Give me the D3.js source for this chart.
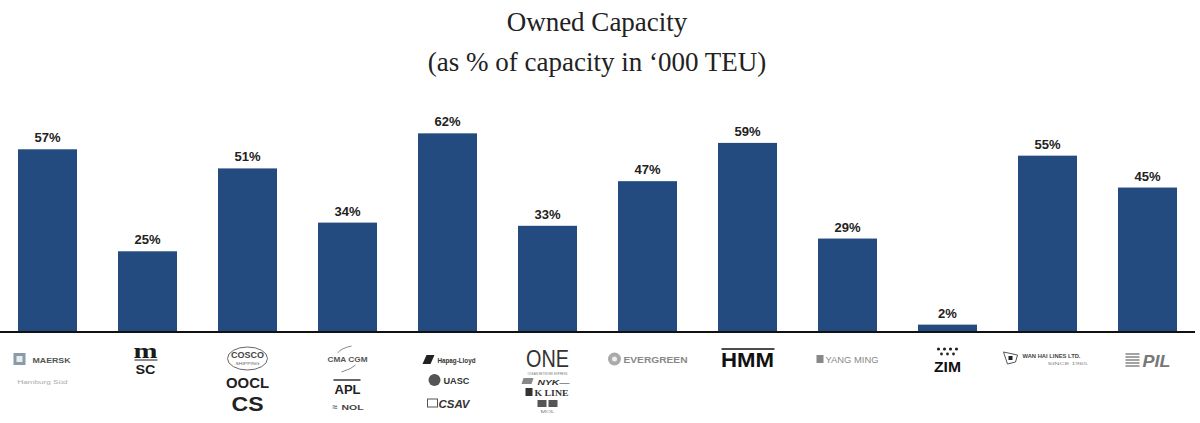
<!DOCTYPE html>
<html>
<head>
<meta charset="utf-8">
<script src="https://cdn.jsdelivr.net/npm/d3@7"></script>
<style>
  html, body { margin: 0; padding: 0; background: #fff; }
  #chart { width: 1200px; height: 423px; }
</style>
</head>
<body>
<div id="chart"></div>
<script>
// Owned capacity by carrier (% of fleet capacity in '000 TEU)
const carriers = ["Maersk", "MSC", "COSCO", "CMA CGM", "Hapag-Lloyd", "ONE",
  "Evergreen", "HMM", "Yang Ming", "ZIM", "Wan Hai", "PIL"];
const ownedShare = [57, 25, 51, 34, 62, 33, 47, 59, 29, 2, 55, 45];
const titleLines = ["Owned Capacity", "(as % of capacity in \u2018000 TEU)"];

const width = 1200;
const height = 423;
const baseY = 331;
const sans = "'Liberation Sans', Arial, sans-serif";
const serif = "'Liberation Serif', 'Times New Roman', serif";

const svg = d3.select("#chart")
  .append("svg")
  .attr("width", width)
  .attr("height", height);

// Title
svg.selectAll(".title")
  .data(titleLines)
  .enter().append("text")
  .attr("class", "title")
  .attr("x", 597)
  .attr("y", (d, i) => i === 0 ? 31 : 71)
  .attr("text-anchor", "middle")
  .style("font-family", serif)
  .style("font-size", "27px")
  .style("fill", "#222")
  .text(d => d);

// Scales
const x = d3.scaleBand()
  .domain(carriers)
  .range([-2.5, 1197.5])
  .paddingInner(0.41)
  .paddingOuter(0.205);

const y = d3.scaleLinear()
  .domain([0, 100])
  .range([baseY, baseY - 318.8]);

const rows = carriers.map((c, i) => ({ name: c, value: ownedShare[i] }));

// Bars
svg.selectAll(".bar")
  .data(rows)
  .enter().append("rect")
  .attr("class", "bar")
  .attr("x", d => x(d.name))
  .attr("y", d => y(d.value))
  .attr("width", x.bandwidth())
  .attr("height", d => y(0) - y(d.value))
  .attr("fill", "#244b7f");

// Value labels
svg.selectAll(".value")
  .data(rows)
  .enter().append("text")
  .attr("class", "value")
  .attr("x", d => x(d.name) + x.bandwidth() / 2)
  .attr("y", d => y(d.value) - 7)
  .attr("text-anchor", "middle")
  .style("font-family", sans)
  .style("font-weight", "bold")
  .style("font-size", "13px")
  .style("fill", "#222")
  .text(d => d.value + "%");

// Baseline
const axis = svg.append("g")
  .attr("transform", `translate(0,${baseY})`)
  .call(d3.axisBottom(x).tickSize(0).tickFormat(""));
axis.select(".domain")
  .attr("d", "M0,1V1H1195")
  .attr("stroke", "#111")
  .attr("stroke-width", 2.2);

// Carrier logos, drawn as text marks under each bar
function txt(g, s, xx, yy, opts) {
  const t = g.append("text")
    .attr("x", xx)
    .attr("y", yy)
    .attr("text-anchor", opts.anchor || "start")
    .style("font-family", opts.family || sans)
    .style("font-size", opts.size + "px")
    .style("font-weight", opts.weight || "bold")
    .style("font-style", opts.italic ? "italic" : "normal")
    .style("fill", opts.fill || "#333")
    .text(s);
  if (opts.len) t.attr("textLength", opts.len).attr("lengthAdjust", "spacingAndGlyphs");
  return t;
}

function drawLogo(name, cx) {
  const g = svg.append("g").attr("class", "logo");
  switch (name) {
    case "Maersk":
      g.append("rect").attr("x", cx - 34).attr("y", 353).attr("width", 12).attr("height", 12).attr("fill", "#8a9aa6");
      g.append("rect").attr("x", cx - 31).attr("y", 356).attr("width", 6).attr("height", 6).attr("fill", "#e6ecf0");
      txt(g, "MAERSK", cx - 15, 362.5, { size: 8, fill: "#555", len: 38 });
      txt(g, "Hamburg S\u00fcd", cx - 30, 384, { size: 5, weight: "normal", fill: "#aaa", len: 50 });
      break;
    case "MSC":
      txt(g, "m", cx - 2, 358, { size: 20, family: serif, fill: "#1a1a1a", anchor: "middle", len: 24 });
      g.append("line").attr("x1", cx - 13).attr("x2", cx + 10).attr("y1", 360).attr("y2", 360).attr("stroke", "#1a1a1a");
      txt(g, "SC", cx - 2, 374, { size: 12, fill: "#1a1a1a", anchor: "middle", len: 20 });
      break;
    case "COSCO":
      g.append("ellipse").attr("cx", cx).attr("cy", 358.5).attr("rx", 20).attr("ry", 11.5).attr("fill", "none").attr("stroke", "#666").attr("stroke-width", 1);
      txt(g, "COSCO", cx, 358, { size: 9, fill: "#444", anchor: "middle", len: 33 });
      txt(g, "SHIPPING", cx, 364.5, { size: 4, weight: "normal", fill: "#666", anchor: "middle", len: 24 });
      txt(g, "OOCL", cx, 388, { size: 14, fill: "#222", anchor: "middle", len: 43 });
      txt(g, "CS", cx, 411, { size: 20, weight: 900, fill: "#222", anchor: "middle", len: 32 });
      break;
    case "CMA CGM":
      g.append("path").attr("d", `M${cx + 4},346 Q${cx - 6},348 ${cx - 10},353`).attr("fill", "none").attr("stroke", "#888");
      txt(g, "CMA CGM", cx, 362, { size: 8, fill: "#555", anchor: "middle", len: 40 });
      g.append("path").attr("d", `M${cx - 6},372 Q${cx + 4},369 ${cx + 8},365`).attr("fill", "none").attr("stroke", "#888");
      g.append("line").attr("x1", cx - 14).attr("x2", cx + 13).attr("y1", 380).attr("y2", 380).attr("stroke", "#333").attr("stroke-width", 1.5);
      txt(g, "APL", cx, 394, { size: 12, fill: "#222", anchor: "middle", len: 26 });
      txt(g, "\u2248", cx - 15, 410, { size: 9, fill: "#666" });
      txt(g, "NOL", cx - 6, 410, { size: 7, fill: "#444", len: 22 });
      break;
    case "Hapag-Lloyd":
      g.append("path").attr("d", `M${cx - 25},364 L${cx - 21},355 L${cx - 13},355 L${cx - 17},364 Z`).attr("fill", "#222");
      txt(g, "Hapag-Lloyd", cx - 10, 363, { size: 7, fill: "#333", len: 38 });
      g.append("circle").attr("cx", cx - 13).attr("cy", 380).attr("r", 6).attr("fill", "#555");
      txt(g, "UASC", cx - 4, 384, { size: 9, fill: "#333", len: 26 });
      g.append("rect").attr("x", cx - 20).attr("y", 399).attr("width", 10).attr("height", 8).attr("fill", "none").attr("stroke", "#555");
      txt(g, "CSAV", cx - 9, 407.5, { size: 11, italic: true, fill: "#333", len: 31 });
      break;
    case "ONE":
      txt(g, "ONE", cx, 366.5, { size: 23, weight: "normal", fill: "#333", anchor: "middle", len: 43 });
      txt(g, "OCEAN NETWORK EXPRESS", cx, 374.5, { size: 3, weight: "normal", fill: "#777", anchor: "middle", len: 40 });
      g.append("path").attr("d", `M${cx - 24},378 L${cx - 14},378 L${cx - 16},384 L${cx - 26},384 Z`).attr("fill", "#888");
      txt(g, "NYK\u2014", cx - 10, 385, { size: 8, italic: true, fill: "#333", len: 32 });
      g.append("rect").attr("x", cx - 22).attr("y", 388).attr("width", 7).attr("height", 8).attr("fill", "#333");
      txt(g, "K LINE", cx - 13, 396, { size: 9, family: serif, fill: "#333", len: 34 });
      g.append("rect").attr("x", cx - 10).attr("y", 400).attr("width", 9).attr("height", 7).attr("fill", "#555");
      g.append("rect").attr("x", cx + 1).attr("y", 400).attr("width", 9).attr("height", 7).attr("fill", "#555");
      txt(g, "MOL", cx, 413, { size: 4, weight: "normal", fill: "#777", anchor: "middle", len: 14 });
      break;
    case "Evergreen":
      g.append("circle").attr("cx", cx - 33).attr("cy", 359).attr("r", 6.5).attr("fill", "#aaa");
      g.append("circle").attr("cx", cx - 33).attr("cy", 359).attr("r", 2.5).attr("fill", "#eee");
      txt(g, "EVERGREEN", cx - 24, 363, { size: 9, fill: "#888", len: 64 });
      break;
    case "HMM":
      g.append("line").attr("x1", cx - 26).attr("x2", cx + 27).attr("y1", 349).attr("y2", 349).attr("stroke", "#111").attr("stroke-width", 1.5);
      txt(g, "HMM", cx, 367, { size: 20, weight: 900, fill: "#111", anchor: "middle", len: 53 });
      break;
    case "Yang Ming":
      g.append("rect").attr("x", cx - 31).attr("y", 355).attr("width", 7).attr("height", 8).attr("fill", "#888");
      txt(g, "YANG MING", cx - 22, 363, { size: 9, weight: "normal", fill: "#888", len: 53 });
      break;
    case "ZIM":
      [-9, -3, 3, 9].forEach(d => g.append("circle").attr("cx", cx + d).attr("cy", 349).attr("r", 1.6).attr("fill", "#222"));
      [-6, 0, 6].forEach(d => g.append("circle").attr("cx", cx + d).attr("cy", 354).attr("r", 1.4).attr("fill", "#222"));
      txt(g, "ZIM", cx, 372, { size: 15, fill: "#111", anchor: "middle", len: 27 });
      break;
    case "Wan Hai":
      g.append("path").attr("d", `M${cx - 44},352 L${cx - 30},355 L${cx - 32},362 L${cx - 40},364 Z`).attr("fill", "none").attr("stroke", "#555");
      g.append("rect").attr("x", cx - 39).attr("y", 356).attr("width", 4).attr("height", 4).attr("fill", "#222");
      txt(g, "WAN HAI LINES LTD.", cx - 25, 358, { size: 5.5, fill: "#444", len: 58 });
      txt(g, "SINCE 1965", cx, 364.5, { size: 3.5, weight: "normal", fill: "#888", len: 40 });
      break;
    case "PIL":
      [0, 3, 6, 9, 12].forEach(d => g.append("line")
        .attr("x1", cx - 22).attr("x2", cx - 8)
        .attr("y1", 354 + d).attr("y2", 354 + d)
        .attr("stroke", "#999").attr("stroke-width", 1.8));
      txt(g, "PIL", cx - 5, 367, { size: 17, italic: true, fill: "#777", len: 28 });
      break;
  }
}

carriers.forEach(c => drawLogo(c, x(c) + x.bandwidth() / 2));
</script>
</body>
</html>
